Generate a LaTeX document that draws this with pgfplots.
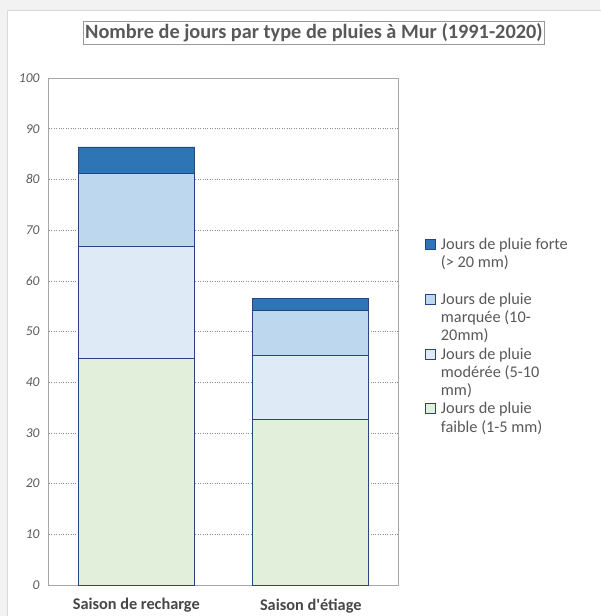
\documentclass[border=0pt]{standalone}
\usepackage{fontspec}
\setmainfont{Carlito}
\usepackage{pgfplots}
\pgfplotsset{compat=1.18}
\definecolor{forte}{HTML}{2E75B6}
\definecolor{marquee}{HTML}{BDD7EE}
\definecolor{moderee}{HTML}{DEEBF7}
\definecolor{faible}{HTML}{E2EFDA}
\definecolor{edge}{HTML}{26457F}
\definecolor{txt}{HTML}{595959}
\definecolor{axgray}{HTML}{A6A6A6}
\definecolor{bggray}{HTML}{F2F2F2}
\newcommand\lentry[2]{\begin{tabular}[t]{@{}l@{}}#1\\#2\end{tabular}}
\newcommand\lentryiii[3]{\begin{tabular}[t]{@{}l@{}}#1\\#2\\#3\end{tabular}}
\begin{document}
\begin{tikzpicture}[x=1pt,y=1pt]
\fill[bggray] (0pt,0pt) rectangle (600pt,-616pt);
\filldraw[fill=white,draw=black!15] (7pt,-10pt) rectangle (601pt,-617pt);
\begin{axis}[
  at={(49pt,-585pt)}, anchor=south west,
  scale only axis, width=349pt, height=507pt,
  ybar stacked, bar width=0.665,
  xmin=-0.5, xmax=1.5, ymin=0, ymax=100,
  xtick={0,1}, xticklabels={Saison de recharge, Saison d\textquotesingle étiage},
  ytick={0,10,...,100},
  major tick length=0pt,
  axis line style={draw=axgray, line width=1pt},
  ymajorgrids, grid style={dotted, draw=black!45, line width=0.6pt},
  tick label style={/pgf/number format/assume math mode=true},
  yticklabel style={font=\fontsize{13.5}{16}\selectfont\itshape, text=txt, xshift=-6pt},
  xticklabel style={font=\fontsize{16.3}{19}\selectfont\bfseries, text=black!72, yshift=-10pt},
  title={Nombre de jours par type de pluies à Mur (1991-2020)},
  title style={at={(0.759,1.077)}, anchor=center, draw=black!40, line width=0.8pt,
    font=\fontsize{20.3}{23}\selectfont\bfseries, text=black!65, inner xsep=2pt, inner ysep=2.5pt},
  reverse legend,
  legend image code/.code={\draw[#1,line width=0.9pt] (0pt,0pt) rectangle (10pt,10pt);},
  legend style={at={(1.077,0.688)}, anchor=north west, draw=none, fill=none,
    font=\fontsize{16.3}{18.3}\selectfont, text=txt,
    inner sep=0pt, row sep=40.6pt, column sep=5pt,
    cells={anchor=base west}, nodes={inner sep=0pt}},
]
\addplot[fill=faible, draw=edge, line width=0.9pt] coordinates {(0,44.6) (1,32.7)};
\addlegendentry{\lentry{Jours de pluie}{faible (1-5 mm)}}
\addplot[fill=moderee, draw=edge, line width=0.9pt] coordinates {(0,22.2) (1,12.5)};
\addlegendentry{\lentryiii{Jours de pluie}{modérée (5-10}{mm)}}
\addplot[fill=marquee, draw=edge, line width=0.9pt] coordinates {(0,14.4) (1,8.9)};
\addlegendentry{\lentryiii{Jours de pluie}{marquée (10-}{20mm)}}
\addplot[fill=forte, draw=edge, line width=0.9pt] coordinates {(0,5.2) (1,2.4)};
\addlegendentry{\lentryiii{Jours de pluie forte}{(> 20 mm)}{\mbox{}}}
\end{axis}
\pgfresetboundingbox
\useasboundingbox (0pt,0pt) rectangle (600pt,-616pt);
\end{tikzpicture}
\end{document}
